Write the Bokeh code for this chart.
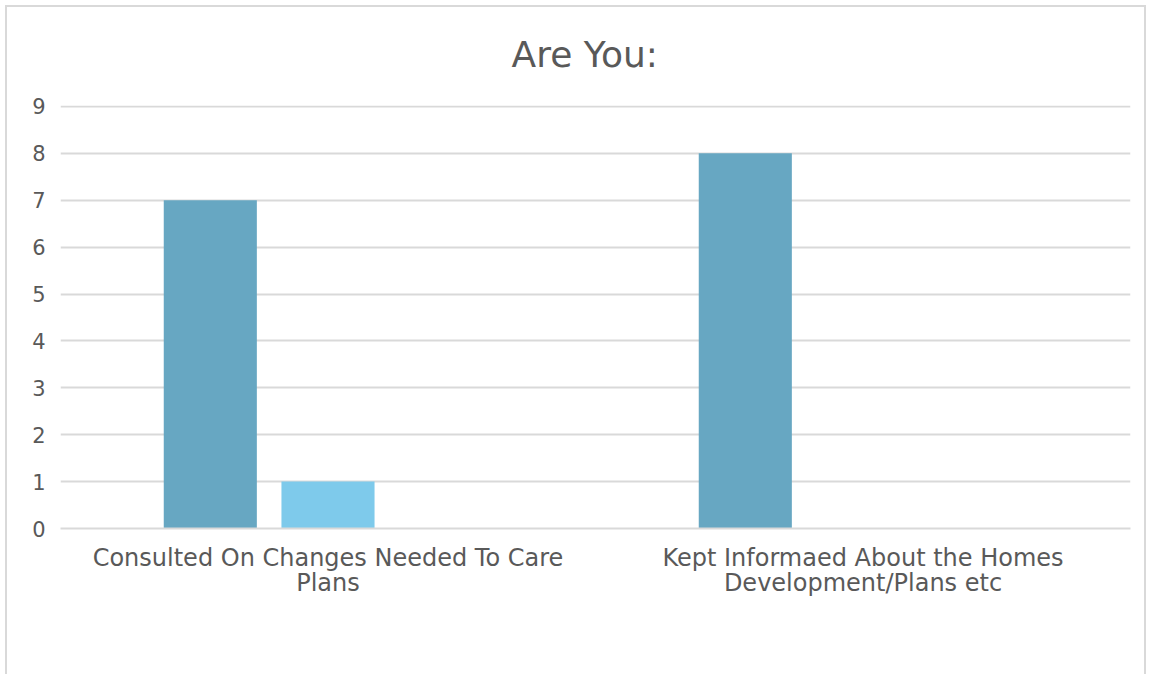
from bokeh.plotting import figure
from bokeh.models import (FactorRange, Range1d, Legend, LegendItem, ColumnDataSource,
                          SingleIntervalTicker, CategoricalAxis, CustomJSTickFormatter)
from bokeh.transform import dodge
from bokeh.embed import file_html
from bokeh.resources import INLINE

categories = ["Consulted On Changes Needed To Care\nPlans",
              "Kept Informaed About the Homes\nDevelopment/Plans etc"]
series = ["Yes", "No", "Don’t Know"]
yes = [7, 8]
no = [1, 0]
dont_know = [0, 0]
colors = ["#67A7C2", "#7ECAEB", "#B8E0F2"]

line1 = [c.split("\n")[0] for c in categories]
line2 = {c.split("\n")[0]: c.split("\n")[1] for c in categories}

src = ColumnDataSource(dict(cat=line1, yes=yes, no=no, dk=dont_know))

FONT = "DejaVu Sans"
TXT = "#595959"
GRID = "#d9d9d9"

p = figure(frame_width=1070, frame_height=423, x_range=FactorRange(*line1, range_padding=0),
           y_range=Range1d(0, 9.02), output_backend="svg", toolbar_location=None,
           min_border_left=60, min_border_right=21, min_border_top=104, min_border_bottom=30,
           title="Are You:")
p.outline_line_color = None
p.border_fill_color = None
p.styles = {"box-shadow": "inset 0 0 0 5px #ffffff, inset 0 0 0 7px #d9d9d9"}

p.title.align = "left"
p.title.text_font = FONT
p.title.text_font_size = "36px"
p.title.text_font_style = "normal"
p.title.text_color = TXT
p.title.standoff = 62
p.title.offset = 451

offsets = [-0.22, 0.0, 0.22]
fields = ["yes", "no", "dk"]
renderers = []
for f, off, c in zip(fields, offsets, colors):
    r = p.vbar(x=dodge("cat", off, range=p.x_range), top=f, width=0.174, source=src,
               fill_color=c, line_color=None)
    renderers.append(r)

p.yaxis.ticker = SingleIntervalTicker(interval=1)
p.yaxis.axis_line_color = None
p.yaxis.major_tick_line_color = None
p.yaxis.minor_tick_line_color = None
p.yaxis.major_label_text_font = FONT
p.yaxis.major_label_text_font_size = "21px"
p.yaxis.major_label_text_color = TXT
p.yaxis.major_label_standoff = 9

p.xaxis.axis_line_color = GRID
p.xaxis.axis_line_width = 2
p.xaxis.major_tick_line_color = None
p.xaxis.minor_tick_line_color = None
p.xaxis.major_label_text_font = FONT
p.xaxis.major_label_text_font_size = "24px"
p.xaxis.major_label_text_color = TXT
p.xaxis.major_label_standoff = 9

ax2 = CategoricalAxis(formatter=CustomJSTickFormatter(args=dict(m=line2), code="return m[tick] || '';"),
                      axis_line_color=None, major_tick_line_color=None, minor_tick_line_color=None,
                      major_label_text_font=FONT, major_label_text_font_size="24px",
                      major_label_text_color=TXT, major_label_standoff=-12)
p.add_layout(ax2, "below")

p.xgrid.grid_line_color = None
p.ygrid.grid_line_color = GRID
p.ygrid.grid_line_width = 2

legend = Legend(items=[LegendItem(label=s, renderers=[r]) for s, r in zip(series, renderers)],
                orientation="horizontal", location="top_center",
                label_text_font=FONT, label_text_font_size="23px", label_text_color=TXT,
                glyph_width=13, glyph_height=13, label_standoff=8, spacing=24,
                border_line_color=None, background_fill_alpha=0, margin=13, padding=0)
p.add_layout(legend, "below")

open("out.html", "w").write(file_html(p, INLINE))
